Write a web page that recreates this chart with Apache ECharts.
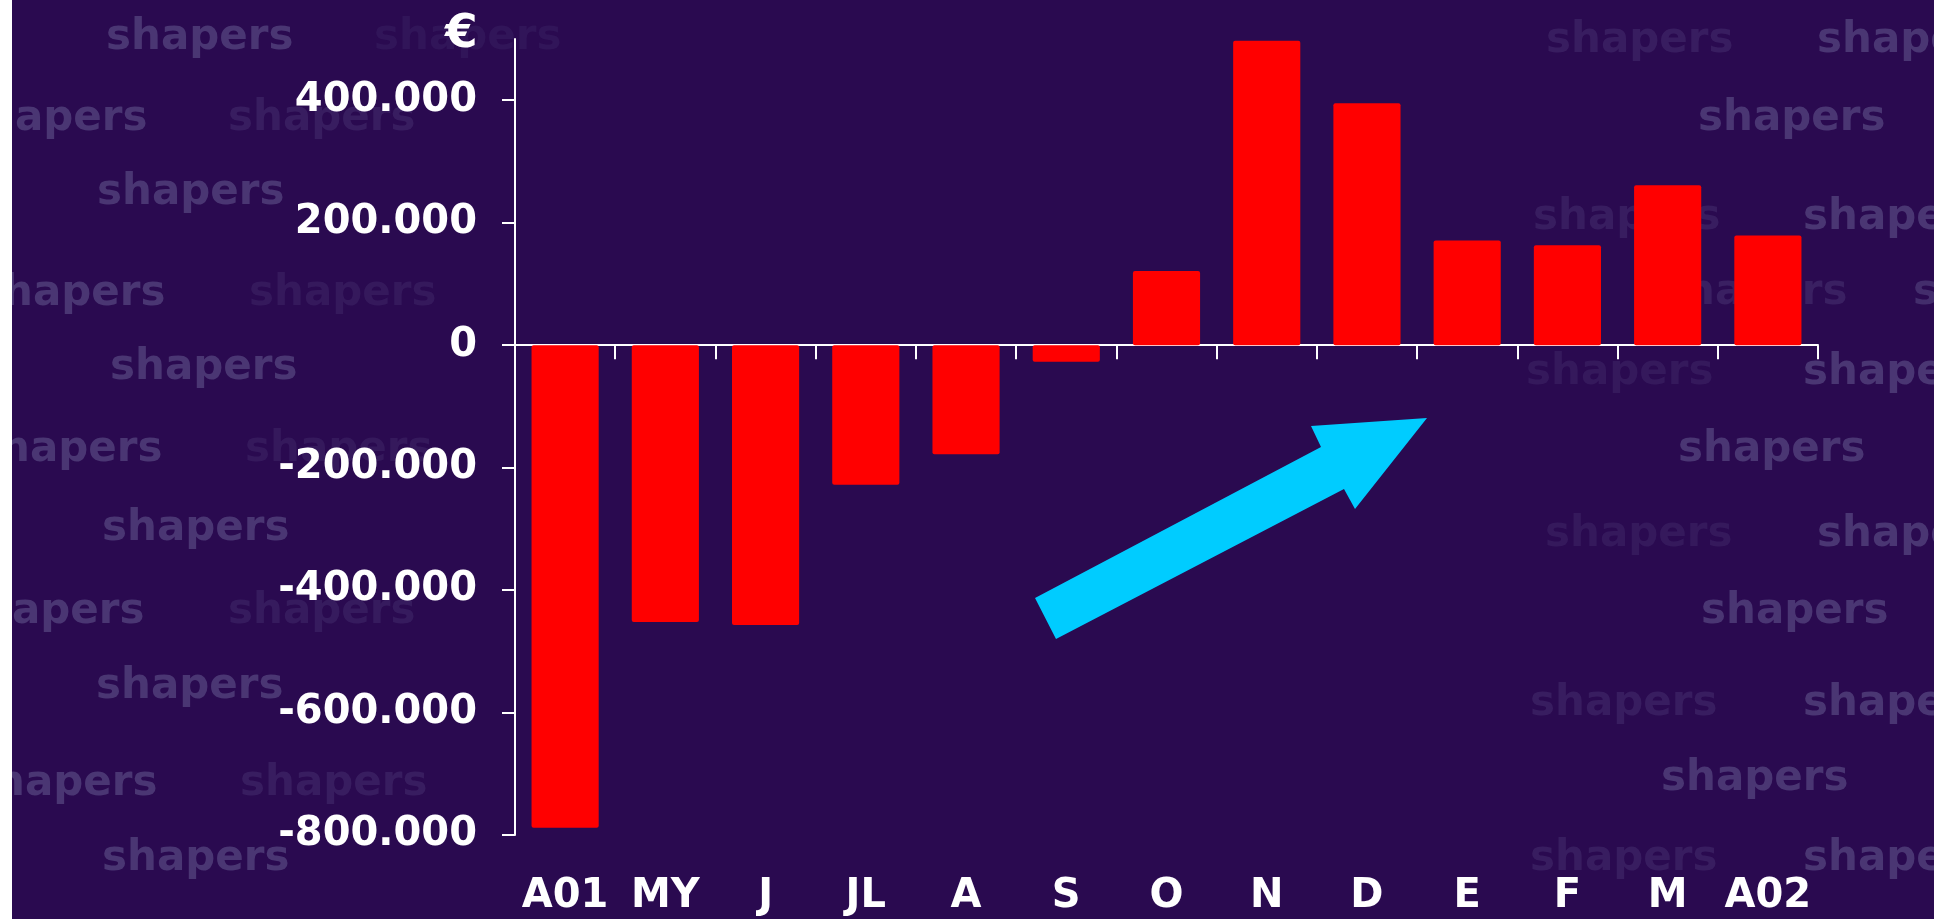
<!DOCTYPE html>
<html>
<head>
<meta charset="utf-8">
<script src="https://cdn.jsdelivr.net/npm/echarts@6/dist/echarts.min.js"></script>
<style>
html,body{margin:0;padding:0;background:#fff;}
#chart{width:1954px;height:919px;}
</style>
</head>
<body>
<div id="chart"></div>
<script>
const categories = ['A01','MY','J','JL','A','S','O','N','D','E','F','M','A02'];
const values = [-788000,-452000,-457000,-228000,-178000,-27000,121000,497000,395000,171000,163000,261000,179000];
const yTickValues = [-800000,-600000,-400000,-200000,0,200000,400000];
const unitLabel = '€';
const watermarkText = 'shapers';

function fmt(v){
  const neg = v < 0;
  const s = String(Math.abs(Math.round(v))).replace(/\B(?=(\d{3})+(?!\d))/g,'.');
  return (neg ? '-' : '') + s;
}

const BG = '#2a0a50';
const wm = [
  [106,39,1],[374,39,0.25],
  [-40,120,1],[228,120,0.45],
  [97,194,1],
  [-22,295,1],[249,295,0.35],
  [110,369,1],
  [-25,451,1],[245,451,0.35],
  [102,530,1],
  [-43,613,1],[228,613,0.4],
  [96,688,1],
  [-30,785,1],[240,785,0.45],
  [102,860,1],
  [1546,42,0.45],[1817,42,1],
  [1698,120,1],
  [1533,219,0.45],[1803,219,1],
  [1660,294,0.5],[1913,294,0.8],
  [1526,374,0.35],[1803,374,1],
  [1678,451,1],
  [1545,536,0.35],[1817,536,1],
  [1701,613,1],
  [1530,705,0.45],[1803,705,1],
  [1661,780,1],
  [1530,860,0.45],[1803,860,1]
];

const graphics = wm.map(p => ({
  type:'text', left:p[0], top:p[1]-22, z:-10, silent:true,
  style:{text:watermarkText, fill:'#52417c', opacity:p[2]*0.8,
    font:'bold 42px "DejaVu Sans"'}
}));
graphics.push({
  type:'text', left:445, top:11, z:10,
  style:{text:unitLabel, fill:'#fff', font:'bold 47px "DejaVu Sans"'}
});
graphics.push({
  type:'polygon', z:10,
  shape:{points:[[1035,598],[1321,447],[1311,426],[1427,418],[1355,509],[1344,489],[1056,639]]},
  style:{fill:'#00ccff'}
});
graphics.push({type:'rect', z:100, shape:{x:0,y:0,width:12,height:919}, style:{fill:'#fff'}});
graphics.push({type:'rect', z:100, shape:{x:1934,y:0,width:20,height:919}, style:{fill:'#fff'}});

const chart = echarts.init(document.getElementById('chart'));
chart.setOption({
  backgroundColor: BG,
  animation:false,
  grid:{left:515, right:136, top:39, bottom:84, containLabel:false},
  xAxis:[{
    type:'category', data:categories, position:'bottom',
    axisLine:{show:true, onZero:true, lineStyle:{color:'#fff', width:2}},
    axisTick:{show:true, inside:false, length:14, alignWithLabel:false, lineStyle:{color:'#fff', width:2}},
    axisLabel:{show:false},
    splitLine:{show:false}
  },{
    type:'category', data:categories, position:'bottom',
    axisLine:{show:false, onZero:false},
    axisTick:{show:false},
    axisLabel:{show:true, color:'#fff', fontFamily:'DejaVu Sans', fontWeight:'bold', fontSize:40, margin:42, interval:0},
    splitLine:{show:false}
  }],
  yAxis:{
    type:'value', min:-800000, max:500000, interval:100000,
    axisLine:{show:true, lineStyle:{color:'#fff', width:2}},
    axisTick:{show:true, length:13, customValues:yTickValues, lineStyle:{color:'#fff', width:2}},
    axisLabel:{show:true, customValues:yTickValues, color:'#fff', fontFamily:'DejaVu Sans', fontWeight:'bold', fontSize:40, margin:38, formatter:fmt},
    splitLine:{show:false}
  },
  series:[{
    type:'bar', data:values, xAxisIndex:0, barWidth:'67%',
    itemStyle:{color:'#ff0000', borderRadius:2}
  }],
  graphic:graphics
});
</script>
</body>
</html>
